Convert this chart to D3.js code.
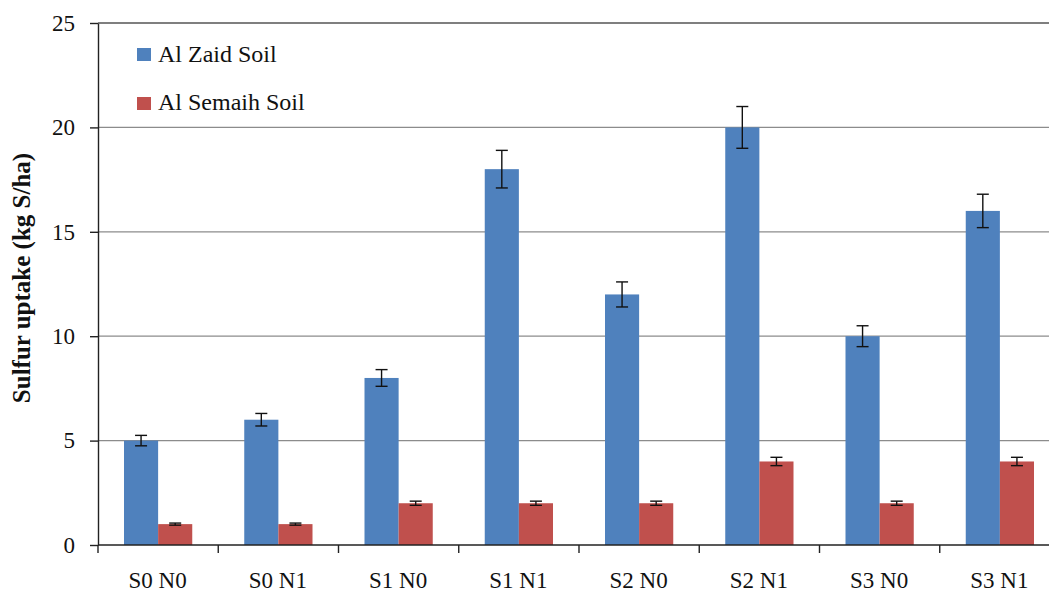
<!DOCTYPE html>
<html>
<head>
<meta charset="utf-8">
<script src="https://cdn.jsdelivr.net/npm/d3@7"></script>
<style>
  html, body { margin: 0; padding: 0; background: #fff; }
  svg { display: block; }
  svg text { font-family: "Liberation Serif", "Times New Roman", serif; }
</style>
</head>
<body>
<svg id="chart" width="1049" height="593"></svg>
<script>
// Treatments (sulfur level x nitrogen level)
const categories = ["S0 N0", "S0 N1", "S1 N0", "S1 N1", "S2 N0", "S2 N1", "S3 N0", "S3 N1"];
const seriesNames = ["Al Zaid Soil", "Al Semaih Soil"];
const zaidValues = [5, 6, 8, 18, 12, 20, 10, 16];
const zaidErrors = [0.25, 0.3, 0.4, 0.9, 0.6, 1.0, 0.5, 0.8];
const semaihValues = [1, 1, 2, 2, 2, 4, 2, 4];
const semaihErrors = [0.05, 0.05, 0.1, 0.1, 0.1, 0.2, 0.1, 0.2];
const yTicks = [0, 5, 10, 15, 20, 25];
const colors = ["#4F81BD", "#C0504D"];

const svg = d3.select("#chart");
const plotLeft = 98, plotRight = 1060, plotTop = 23, plotBottom = 545;

const x = d3.scaleBand().domain(categories).range([plotLeft, plotRight]).paddingInner(0).paddingOuter(0);
const inner = d3.scaleBand().domain(seriesNames).range([26, x.bandwidth() - 26]).padding(0);
const y = d3.scaleLinear().domain([0, 25]).range([plotBottom, plotTop]);

// Horizontal gridlines
svg.append("g")
  .selectAll("line")
  .data(yTicks.filter(t => t > 0))
  .join("line")
  .attr("x1", plotLeft).attr("x2", 1049)
  .attr("y1", d => y(d)).attr("y2", d => y(d))
  .attr("stroke", d => d === 25 ? "#555" : "#8c8c8c")
  .attr("stroke-width", 1.3);

// Bars
const rows = categories.map((c, i) => ({
  cat: c,
  vals: [
    { s: seriesNames[0], v: zaidValues[i], e: zaidErrors[i] },
    { s: seriesNames[1], v: semaihValues[i], e: semaihErrors[i] }
  ]
}));

const groups = svg.append("g")
  .selectAll("g")
  .data(rows)
  .join("g")
  .attr("transform", d => `translate(${x(d.cat)},0)`);

groups.selectAll("rect")
  .data(d => d.vals)
  .join("rect")
  .attr("x", d => inner(d.s))
  .attr("width", inner.bandwidth())
  .attr("y", d => y(d.v))
  .attr("height", d => y(0) - y(d.v))
  .attr("fill", (d, i) => colors[i]);

// Error bars
const capW = 6;
const err = groups.selectAll("g.err")
  .data(d => d.vals)
  .join("g")
  .attr("class", "err")
  .attr("stroke", "#111")
  .attr("stroke-width", 1.4);
err.append("line")
  .attr("x1", d => inner(d.s) + inner.bandwidth() / 2)
  .attr("x2", d => inner(d.s) + inner.bandwidth() / 2)
  .attr("y1", d => y(d.v + d.e)).attr("y2", d => y(d.v - d.e));
err.append("line")
  .attr("x1", d => inner(d.s) + inner.bandwidth() / 2 - capW)
  .attr("x2", d => inner(d.s) + inner.bandwidth() / 2 + capW)
  .attr("y1", d => y(d.v + d.e)).attr("y2", d => y(d.v + d.e));
err.append("line")
  .attr("x1", d => inner(d.s) + inner.bandwidth() / 2 - capW)
  .attr("x2", d => inner(d.s) + inner.bandwidth() / 2 + capW)
  .attr("y1", d => y(d.v - d.e)).attr("y2", d => y(d.v - d.e));

// Y axis
const yAxis = svg.append("g")
  .attr("transform", `translate(${plotLeft},0)`)
  .call(d3.axisLeft(y).tickValues(yTicks).tickSize(8).tickPadding(15).tickSizeOuter(0));
yAxis.select(".domain").attr("stroke", "#222").attr("stroke-width", 1.4);
yAxis.selectAll(".tick line").attr("stroke", "#222").attr("stroke-width", 1.4);
yAxis.selectAll(".tick text")
  .attr("font-size", 23).attr("fill", "#111")
  .attr("font-family", "Liberation Serif, serif");

// X axis with ticks between categories
svg.append("line")
  .attr("x1", plotLeft).attr("x2", 1049)
  .attr("y1", plotBottom).attr("y2", plotBottom)
  .attr("stroke", "#222").attr("stroke-width", 1.4);
svg.append("g")
  .selectAll("line")
  .data(categories)
  .join("line")
  .attr("x1", d => x(d)).attr("x2", d => x(d))
  .attr("y1", plotBottom).attr("y2", plotBottom + 8)
  .attr("stroke", "#222").attr("stroke-width", 1.4);
svg.append("g")
  .selectAll("text")
  .data(categories)
  .join("text")
  .attr("x", d => x(d) + x.bandwidth() / 2 - 0.5)
  .attr("y", 588)
  .attr("text-anchor", "middle")
  .attr("font-size", 23)
  .attr("fill", "#111")
  .text(d => d);

// Y axis title
svg.append("text")
  .attr("transform", "translate(30,278) rotate(-90)")
  .attr("text-anchor", "middle")
  .attr("font-size", 25)
  .attr("font-weight", "bold")
  .attr("fill", "#111")
  .text("Sulfur uptake (kg S/ha)");

// Legend
const legend = svg.append("g");
seriesNames.forEach((name, i) => {
  legend.append("rect")
    .attr("x", 137).attr("y", 48 + i * 49)
    .attr("width", 14).attr("height", 13)
    .attr("fill", colors[i]);
  legend.append("text")
    .attr("x", 158).attr("y", 62 + i * 48)
    .attr("font-size", 24)
    .attr("fill", "#111")
    .text(name);
});
</script>
</body>
</html>
